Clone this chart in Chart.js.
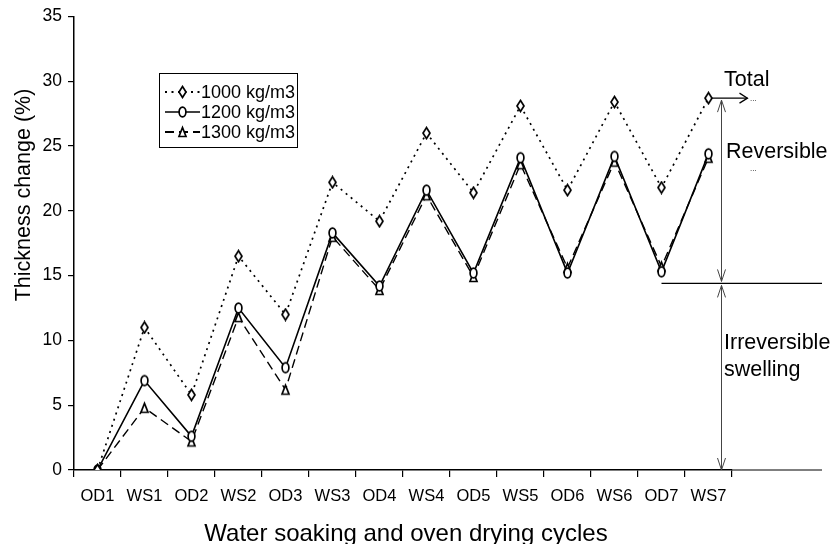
<!DOCTYPE html>
<html>
<head>
<meta charset="utf-8">
<script src="https://cdn.jsdelivr.net/npm/chart.js@4"></script>
<style>
  body { margin: 0; background: #fff; }
  #wrap { width: 832px; height: 544px; }
</style>
</head>
<body>
<div id="wrap"><canvas id="Dikte_Chart"></canvas></div>
<script>
// data
const cycles = ['OD1', 'WS1', 'OD2', 'WS2', 'OD3', 'WS3', 'OD4', 'WS4', 'OD5', 'WS5', 'OD6', 'WS6', 'OD7', 'WS7'];
const d1000 = [0, 11.0, 5.8, 16.5, 12.0, 22.2, 19.2, 26.0, 21.4, 28.1, 21.6, 28.4, 21.8, 28.7];
const d1200 = [0, 6.9, 2.6, 12.5, 7.9, 18.3, 14.2, 21.6, 15.2, 24.1, 15.2, 24.2, 15.3, 24.4];
const d1300 = [0, 4.8, 2.2, 11.8, 6.2, 18.0, 13.9, 21.2, 14.9, 23.6, 15.6, 23.8, 15.7, 24.1];
const seriesNames = ['1000 kg/m3', '1200 kg/m3', '1300 kg/m3'];
const yTicks = [0, 5, 10, 15, 20, 25, 30, 35];
const irreversibleLevel = 14.4;

const FONT = '"Liberation Sans", Arial, sans-serif';

// markers (white fill, black edge)
function marker(kind) {
  const c = document.createElement('canvas');
  c.width = 11; c.height = 14;
  const g = c.getContext('2d');
  g.fillStyle = '#fff';
  g.strokeStyle = '#000';
  g.lineWidth = 1.7;
  g.beginPath();
  if (kind === 'diamond') {
    g.moveTo(5.5, 1.5); g.lineTo(9, 7); g.lineTo(5.5, 12.5); g.lineTo(2, 7); g.closePath();
  } else if (kind === 'oval') {
    g.ellipse(5.5, 7, 3.4, 4.8, 0, 0, Math.PI * 2);
  } else {
    g.moveTo(5.5, 2.5); g.lineTo(9, 11.5); g.lineTo(2, 11.5); g.closePath();
  }
  g.fill(); g.stroke();
  return c;
}
const mk = [marker('diamond'), marker('oval'), marker('tri')];
const dashes = [[2, 4.5], [], [9, 5]];

function arrowHead(g, x, y, dir, size) {
  // open V arrowhead, dir: 'up','down','right'
  g.beginPath();
  if (dir === 'up') { g.moveTo(x - 4, y + size); g.lineTo(x, y); g.lineTo(x + 4, y + size); }
  if (dir === 'down') { g.moveTo(x - 4, y - size); g.lineTo(x, y); g.lineTo(x + 4, y - size); }
  if (dir === 'right') { g.moveTo(x - size, y - 5); g.lineTo(x, y); g.lineTo(x - size, y + 5); }
  g.stroke();
}

const extraPlugin = {
  id: 'extra',
  afterDraw(chart) {
    const g = chart.ctx;
    const x = chart.scales.x, y = chart.scales.y;
    const last = cycles.length - 1;
    const xLast = x.getPixelForValue(last);
    const xArrow = xLast + 13;
    const yTop = y.getPixelForValue(d1000[last]);
    const yMid = y.getPixelForValue(irreversibleLevel);
    const y0 = y.getPixelForValue(0);
    g.save();
    // axis titles
    g.fillStyle = '#000';
    g.textAlign = 'center';
    g.textBaseline = 'alphabetic';
    g.font = '24px ' + FONT;
    g.fillText('Water soaking and oven drying cycles', 406, 541);
    g.save();
    g.translate(30, 195);
    g.rotate(-Math.PI / 2);
    g.font = '21.5px ' + FONT;
    g.fillText('Thickness change (%)', 0, 0);
    g.restore();
    // baselines
    g.strokeStyle = '#000';
    g.lineWidth = 1.2;
    g.beginPath();
    g.moveTo(chart.chartArea.right, y0); g.lineTo(822, y0);
    g.moveTo(x.getPixelForValue(last - 1), yMid); g.lineTo(822, yMid);
    g.stroke();
    // total arrow
    g.beginPath();
    g.moveTo(xLast + 3, yTop); g.lineTo(xLast + 39, yTop);
    g.stroke();
    arrowHead(g, xLast + 39, yTop, 'right', 8);
    // vertical arrows
    g.strokeStyle = '#444';
    g.lineWidth = 1;
    g.beginPath();
    g.moveTo(xArrow, yTop + 2); g.lineTo(xArrow, yMid - 2);
    g.moveTo(xArrow, yMid + 2); g.lineTo(xArrow, y0);
    g.stroke();
    arrowHead(g, xArrow, yTop + 2, 'up', 12);
    arrowHead(g, xArrow, yMid - 2, 'down', 12);
    arrowHead(g, xArrow, yMid + 2, 'up', 12);
    arrowHead(g, xArrow, y0, 'down', 12);
    // labels
    g.font = '21.5px ' + FONT;
    g.textBaseline = 'middle';
    g.textAlign = 'left';
    g.fillText('Total', 724, 80);
    g.fillText('Reversible', 726, 152);
    g.fillText('Irreversible', 724, 343);
    g.fillText('swelling', 724, 370);
    g.font = '8px ' + FONT;
    g.fillText('...', 750, 99);
    g.fillText('...', 750, 169);

    // legend
    g.strokeStyle = '#000';
    g.lineWidth = 1;
    g.strokeRect(159.5, 73.5, 138, 74);
    g.font = '18px ' + FONT;
    for (let i = 0; i < 3; i++) {
      const ly = 92 + i * 20;
      g.setLineDash(dashes[i]);
      g.lineWidth = i === 1 ? 1.5 : 1.8;
      g.beginPath(); g.moveTo(165, ly); g.lineTo(200, ly); g.stroke();
      g.setLineDash([]);
      g.drawImage(mk[i], 177, ly - 7);
      g.fillText(seriesNames[i], 201, ly + 1);
    }
    g.restore();
  }
};

const ctx = document.getElementById('Dikte_Chart');

const Dikte_Chart = new Chart(ctx, {
  type: 'line',
  data: {
    labels: cycles,
    datasets: [{
      label: seriesNames[0],
      data: d1000,
      borderColor: '#000',
      borderWidth: 1.7,
      borderDash: dashes[0],
      pointStyle: mk[0],
    }, {
      label: seriesNames[1],
      data: d1200,
      borderColor: '#000',
      borderWidth: 1.6,
      pointStyle: mk[1],
    }, {
      label: seriesNames[2],
      data: d1300,
      borderColor: '#000',
      borderWidth: 1.4,
      borderDash: dashes[2],
      pointStyle: mk[2],
    }]
  },
  options: {
    responsive: true,
    maintainAspectRatio: false,
    animation: false,
    tension: 0,
    layout: { padding: { left: 0, right: 100, top: 16, bottom: 0 } },
    plugins: {
      legend: { display: false },
      tooltip: { enabled: false }
    },
    scales: {
      x: {
        offset: true,
        grid: { offset: true, drawOnChartArea: false, color: '#000', tickLength: 7, lineWidth: 1.2 },
        border: { color: '#000', width: 1.5 },
        ticks: { color: '#000', font: { family: FONT, size: 16.5 }, padding: 10, maxRotation: 0, autoSkip: false },
        afterFit: s => { s.height = 74; }
      },
      y: {
        min: 0,
        max: 35,
        afterBuildTicks: s => { s.ticks = yTicks.map(v => ({ value: v })); },
        grid: { drawOnChartArea: false, color: '#000', tickLength: 6, lineWidth: 1.2 },
        border: { color: '#000', width: 1.5 },
        ticks: { color: '#000', font: { family: FONT, size: 17.5 }, padding: 6 },
        afterFit: s => { s.width = 74; }
      }
    }
  },
  plugins: [extraPlugin]
});
</script>
</body>
</html>
